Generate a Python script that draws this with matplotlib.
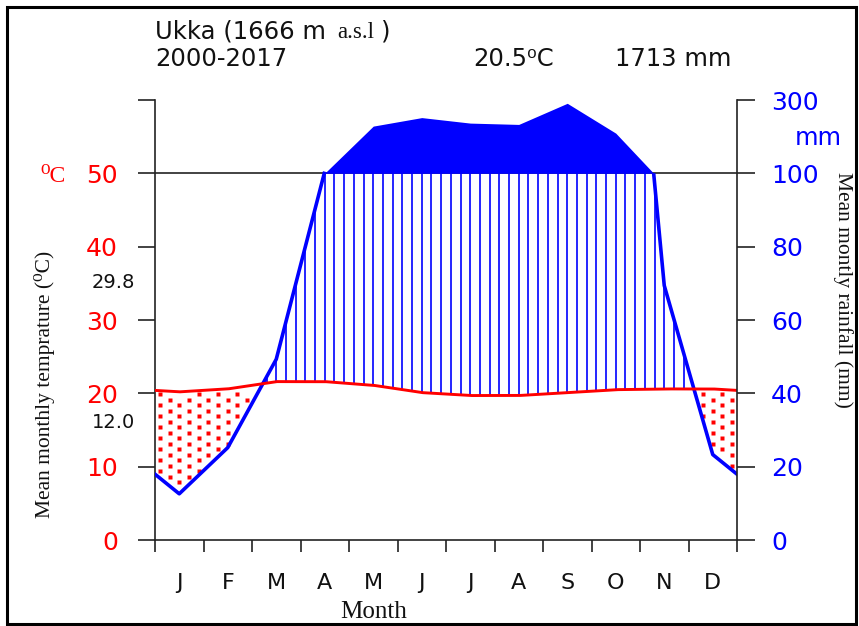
import numpy as np
import matplotlib
matplotlib.use("Agg")
import matplotlib.pyplot as plt
from matplotlib.patches import Rectangle

# Monthly climate normals for Ukka station
months = ["J", "F", "M", "A", "M", "J", "J", "A", "S", "O", "N", "D"]
temp_c = [20.2, 20.6, 21.6, 21.6, 21.1, 20.1, 19.7, 19.7, 20.1, 20.5, 20.6, 20.6]
rain_mm = [12.6, 25.2, 49.3, 100.5, 228.8, 252.0, 237.0, 233.4, 291.0, 209.6, 69.4, 23.3]

station_name = "Ukka"
altitude = "1666 m"
period = "2000-2017"
mean_temp = "20.5"
annual_rain = "1713"
max_warmest = "29.8"
min_coldest = "12.0"

temp_ticks = [0, 10, 20, 30, 40, 50, 60]
temp_tick_labels = ["0", "10", "20", "30", "40", "50", ""]
rain_tick_labels = ["0", "20", "40", "60", "80", "100", "300"]

RED = "#ff0000"
BLUE = "#0000ff"
INK = "#222222"
SANS = ["DejaVu Sans"]
SERIF = ["Liberation Serif", "DejaVu Serif"]

plt.rcParams["font.family"] = SANS


def rain_to_axis(p):
    """Walter-Lieth scale: 2 mm per degree up to 100 mm, 20 mm per degree above."""
    p = np.asarray(p, dtype=float)
    return np.where(p <= 100, p / 2.0, 50 + (p - 100) / 20.0)


# monthly values sit at month centres; the year edges take the Dec/Jan mean
xk = np.concatenate([[0], np.arange(12) + 0.5, [12]])
t_edge = (temp_c[-1] + temp_c[0]) / 2
p_edge = (rain_mm[-1] + rain_mm[0]) / 2
tk = np.concatenate([[t_edge], temp_c, [t_edge]])
pk = np.concatenate([[p_edge], rain_mm, [p_edge]])

xf = np.linspace(0, 12, 2401)
tf = np.interp(xf, xk, tk)
pf = rain_to_axis(np.interp(xf, xk, pk))

W, H = 859, 626
fig = plt.figure(figsize=(W / 100, H / 100), dpi=100)


def fx(px):
    return px / W


def fy(py):
    return 1 - py / H


ax = fig.add_axes([fx(155), fy(540), fx(737) - fx(155), fy(100) - fy(540)])
ax.set_xlim(0, 12)
ax.set_ylim(0, 60)
ax2 = ax.twinx()
ax2.set_ylim(0, 60)

# reference line at 50 degC / 100 mm
ax.axhline(50, color=INK, lw=1.2, zorder=1)

# humid season: vertical hatching between the curves
xh = np.arange(0.1, 12, 0.2)
th = np.interp(xh, xk, tk)
ph = rain_to_axis(np.interp(xh, xk, pk))
wet = ph > th
ax.vlines(xh[wet], th[wet], np.minimum(ph[wet], 50), colors=BLUE, lw=1.2, zorder=2)

# dry season: staggered red dots
dot_x, dot_y = [], []
for i, x in enumerate(xh):
    if th[i] > ph[i]:
        ys = np.arange(0.75 * (i % 2) + 0.4, 60, 1.5)
        sel = (ys > ph[i] + 0.5) & (ys < th[i] - 0.4)
        dot_x.extend([x] * int(sel.sum()))
        dot_y.extend(ys[sel])
ax.plot(dot_x, dot_y, ls="none", marker="s", ms=3.0, mfc=RED, mec="none", zorder=2)

# very wet months above 100 mm: solid fill
ax.fill_between(xf, 50, pf, where=pf >= 50, interpolate=True, color=BLUE, lw=0, zorder=3)

# rainfall curve (below 100 mm) and temperature curve
rain_line = np.where(pf <= 50.0001, pf, np.nan)
ax.plot(xf, rain_line, color=BLUE, lw=2.6, zorder=4)
ax.plot(xf, tf, color=RED, lw=2.1, zorder=5)

# spines and ticks
ax.spines["top"].set_visible(False)
ax.spines["right"].set_visible(False)
for s in ["left", "bottom"]:
    ax.spines[s].set_color(INK)
    ax.spines[s].set_linewidth(1.2)
for s in ["top", "left", "bottom"]:
    ax2.spines[s].set_visible(False)
ax2.spines["right"].set_color(INK)
ax2.spines["right"].set_linewidth(1.2)

ax.set_yticks(temp_ticks)
ax.set_yticklabels(temp_tick_labels)
ax.tick_params(axis="y", direction="out", length=12.2, width=1.2, color=INK,
               labelcolor=RED, labelsize=18, pad=14.4)
ax2.set_yticks(temp_ticks)
ax2.set_yticklabels(rain_tick_labels)
ax2.tick_params(axis="y", direction="out", length=12.6, width=1.2, color=INK,
                labelcolor=BLUE, labelsize=18, pad=12)

ax.set_xticks(range(13))
ax.set_xticklabels([""] * 13)
ax.tick_params(axis="x", which="major", direction="out", length=8.6, width=1.2, color=INK)
ax.set_xticks(np.arange(12) + 0.5, minor=True)
ax.set_xticklabels(months, minor=True)
ax.tick_params(axis="x", which="minor", length=0, pad=23.8, labelsize=16, labelcolor="#111111")

# header
t1 = fig.text(fx(155), fy(38), f"{station_name} ({altitude}", fontsize=17.5,
              va="baseline", ha="left", color="#111111")
fig.canvas.draw()
r = fig.canvas.get_renderer()
bb = t1.get_window_extent(r)
t2 = fig.text(fx(bb.x1 + 11), fy(38), "a.s.l", fontsize=16.5, family=SERIF,
              va="baseline", ha="left", color="#111111")
bb2 = t2.get_window_extent(r)
fig.text(fx(bb2.x1 + 7), fy(38), ")", fontsize=17.5, va="baseline", ha="left", color="#111111")
fig.text(fx(155), fy(66), period, fontsize=17.5, va="baseline", ha="left", color="#111111")
fig.text(fx(473), fy(66), f"{mean_temp}\u2070C", fontsize=17.5, va="baseline", ha="left",
         color="#111111")
fig.text(fx(615), fy(66), f"{annual_rain} mm", fontsize=17.5, va="baseline", ha="left",
         color="#111111")

# axis annotations
fig.text(fx(40), fy(176), "\u2070C", color=RED, fontsize=17, family=SERIF, va="center", ha="left")
fig.text(fx(135), fy(282), max_warmest, fontsize=14, va="center", ha="right", color="#111111")
fig.text(fx(135), fy(423), min_coldest, fontsize=14, va="center", ha="right", color="#111111")
fig.text(fx(795), fy(138), "mm", color=BLUE, fontsize=17.5, va="center", ha="left")

fig.text(fx(45), fy(384), "Mean monthly temprature (\u2070C)", rotation=90, ha="center",
         va="center", family=SERIF, fontsize=15.5, color="#111111")
fig.text(fx(843), fy(290), "Mean montly rainfall (mm)", rotation=270, ha="center",
         va="center", family=SERIF, fontsize=15.5, color="#111111")
fig.text(fx(374), fy(612), "Month", ha="center", va="center", family=SERIF, fontsize=18,
         color="#111111")

# outer frame
fig.patches.append(Rectangle((fx(7), fy(624)), fx(856) - fx(7), fy(7) - fy(624),
                             transform=fig.transFigure, fill=False, ec="black", lw=2.2))

fig.savefig("out.png", dpi=100)
